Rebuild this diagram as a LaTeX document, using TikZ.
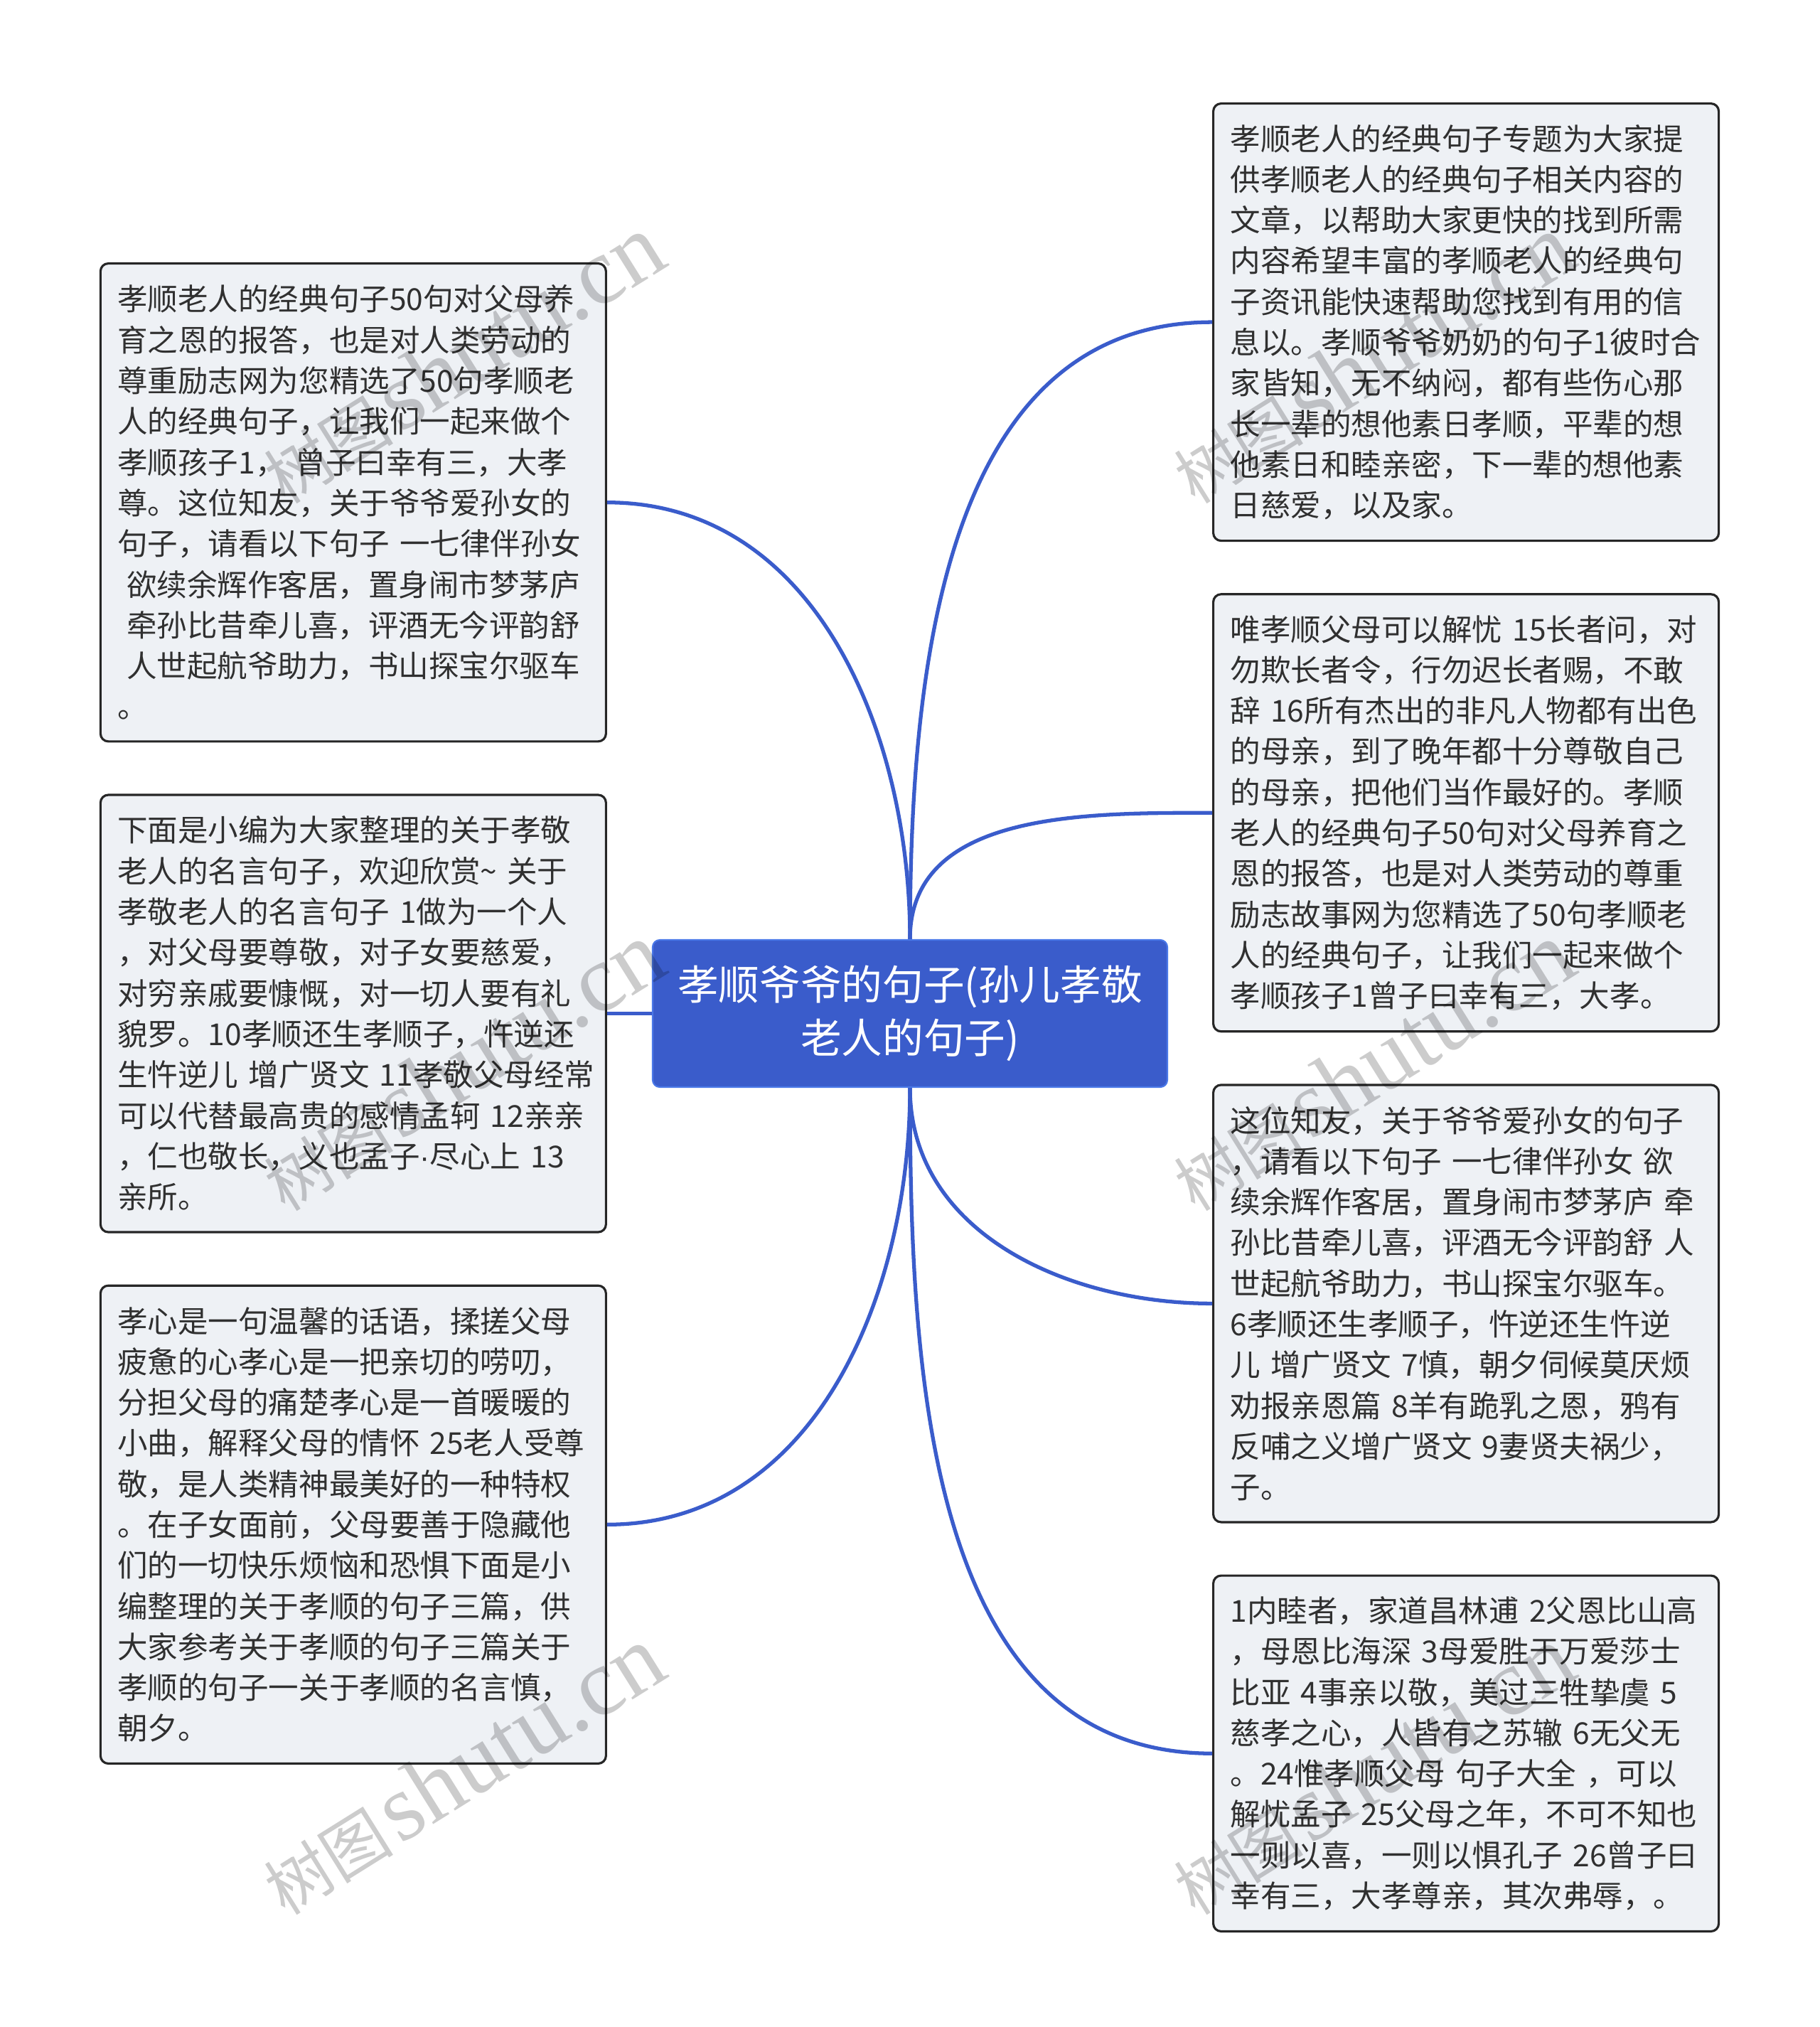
\documentclass[tikz,border=0pt]{standalone}
\usepackage{fontspec}
\setmainfont{Noto Sans CJK SC}
\newfontfamily\wmlatin{Liberation Serif}
\newfontfamily\latinsans{Liberation Sans}
\usepackage{xcolor}
\usetikzlibrary{positioning}
\definecolor{topicblue}{HTML}{3A5CCB}
\definecolor{topicedge}{HTML}{4A78E8}
\definecolor{leaffill}{HTML}{EEF1F5}
\definecolor{leafedge}{HTML}{262626}
\definecolor{leaftext}{HTML}{303030}

\begin{document}
\begin{tikzpicture}[
    topic/.style={draw=topicedge,line width=0.6pt,fill=topicblue,rounded corners=0.1cm,
      text=white,font=\fontsize{16.4}{21.2}\selectfont,minimum width=7.24cm,
      minimum height=2.07cm,text width=7cm,align=center,inner sep=0pt},
    leaf/.style={draw=leafedge,line width=0.9pt,fill=leaffill,rounded corners=0.11cm,
      text=leaftext,font=\fontsize{12.1}{16.3}\selectfont,text width=6.63cm,
      align=left,inner xsep=0.24cm,inner ysep=0.1cm},
    conn/.style={draw=topicblue,line width=1.5pt},
    wmark/.style={text=black,text opacity=0.2,rotate=32,inner sep=0pt}]
  % Mind map: root topic in the middle, three leaves left, four right
  \def\ls{0.573}        % line spacing of leaf text (cm)
  \def\gap{0.72cm}      % gap between stacked leaves
  \def\ind{\hspace*{0.3em}}
  \useasboundingbox (0,0) rectangle (25.6,-28.51);
  % --- Root ---
  \node[topic] (root) at (12.80,-14.255)
    {孝顺爷爷的句子(孙儿孝敬\\老人的句子)};
  % --- Left column ---
  \node[leaf,minimum height={(10*\ls+0.42)*1cm},left=0.63cm of root] (lm)
    {下面是小编为大家整理的关于孝敬\\
     老人的名言句子，欢迎欣赏\textasciitilde~关于\\
     孝敬老人的名言句子~1做为一个人\\
     ，对父母要尊敬，对子女要慈爱，\\
     对穷亲戚要慷慨，对一切人要有礼\\
     貌罗。10孝顺还生孝顺子，忤逆还\\
     生忤逆儿~增广贤文~11孝敬父母经常\\
     可以代替最高贵的感情孟轲~12亲亲\\
     ，仁也敬长，义也孟子{\latinsans ·}尽心上~13\\
     亲所。};
  \node[leaf,minimum height={(11*\ls+0.42)*1cm},above=\gap of lm] (lt)
    {孝顺老人的经典句子50句对父母养\\
     育之恩的报答，也是对人类劳动的\\
     尊重励志网为您精选了50句孝顺老\\
     人的经典句子，让我们一起来做个\\
     孝顺孩子1，~曾子曰幸有三，大孝\\
     尊。这位知友，关于爷爷爱孙女的\\
     句子，请看以下句子~一七律伴孙女\\
     \ind 欲续余辉作客居，置身闹市梦茅庐\\
     \ind 牵孙比昔牵儿喜，评酒无今评韵舒\\
     \ind 人世起航爷助力，书山探宝尔驱车\\
     。};
  \node[leaf,minimum height={(11*\ls+0.42)*1cm},below=\gap of lm] (lb)
    {孝心是一句温馨的话语，揉搓父母\\
     疲惫的心孝心是一把亲切的唠叨，\\
     分担父母的痛楚孝心是一首暖暖的\\
     小曲，解释父母的情怀~25老人受尊\\
     敬，是人类精神最美好的一种特权\\
     。在子女面前，父母要善于隐藏他\\
     们的一切快乐烦恼和恐惧下面是小\\
     编整理的关于孝顺的句子三篇，供\\
     大家参考关于孝顺的句子三篇关于\\
     孝顺的句子一关于孝顺的名言慎，\\
     朝夕。};
  % --- Right column ---
  \node[leaf,minimum height={(10*\ls+0.42)*1cm},anchor=north west] (ra) at (17.05,-1.44)
    {孝顺老人的经典句子专题为大家提\\
     供孝顺老人的经典句子相关内容的\\
     文章，以帮助大家更快的找到所需\\
     内容希望丰富的孝顺老人的经典句\\
     子资讯能快速帮助您找到有用的信\\
     息以。孝顺爷爷奶奶的句子1彼时合\\
     家皆知，无不纳闷，都有些伤心那\\
     长一辈的想他素日孝顺，平辈的想\\
     他素日和睦亲密，下一辈的想他素\\
     日慈爱，以及家。};
  \node[leaf,minimum height={(10*\ls+0.42)*1cm},below=\gap of ra] (rb)
    {唯孝顺父母可以解忧~15长者问，对\\
     勿欺长者令，行勿迟长者赐，不敢\\
     辞~16所有杰出的非凡人物都有出色\\
     的母亲，到了晚年都十分尊敬自己\\
     的母亲，把他们当作最好的。孝顺\\
     老人的经典句子50句对父母养育之\\
     恩的报答，也是对人类劳动的尊重\\
     励志故事网为您精选了50句孝顺老\\
     人的经典句子，让我们一起来做个\\
     孝顺孩子1曾子曰幸有三，大孝。};
  \node[leaf,minimum height={(10*\ls+0.42)*1cm},below=\gap of rb] (rc)
    {这位知友，关于爷爷爱孙女的句子\\
     ，请看以下句子~一七律伴孙女~欲\\
     续余辉作客居，置身闹市梦茅庐~牵\\
     孙比昔牵儿喜，评酒无今评韵舒~人\\
     世起航爷助力，书山探宝尔驱车。\\
     6孝顺还生孝顺子，忤逆还生忤逆\\
     儿~增广贤文~7慎，朝夕伺候莫厌烦\\
     劝报亲恩篇~8羊有跪乳之恩，鸦有\\
     反哺之义增广贤文~9妻贤夫祸少，\\
     子。};
  \node[leaf,minimum height={(8*\ls+0.42)*1cm},below=\gap of rc] (rd)
    {1内睦者，家道昌林逋~2父恩比山高\\
     ，母恩比海深~3母爱胜于万爱莎士\\
     比亚~4事亲以敬，美过三牲挚虞~5\\
     慈孝之心，人皆有之苏辙~6无父无\\
     。24惟孝顺父母~句子大全~，可以\\
     解忧孟子~25父母之年，不可不知也\\
     一则以喜，一则以惧孔子~26曾子曰\\
     幸有三，大孝尊亲，其次弗辱，。};
  % --- Connectors ---
  \draw[conn] (root.north) to[out=90,in=180] (ra.west);
  \draw[conn] (root.north) to[out=90,in=180] (rb.west);
  \draw[conn] (root.south) to[out=-90,in=180] (rc.west);
  \draw[conn] (root.south) to[out=-90,in=180] (rd.west);
  \draw[conn] (root.north) to[out=90,in=0] (lt.east);
  \draw[conn] (root.west) -- (lm.east);
  \draw[conn] (root.south) to[out=-90,in=0] (lb.east);
  % --- Watermarks ---
  \foreach \wx/\wy [count=\i] in {6.5/-5.05,19.3/-5.05,6.5/-15.0,19.3/-15.0,6.5/-24.9,19.3/-24.9}
    \node[wmark] (wm\i) at (\wx,\wy)
      {{\fontsize{26}{26}\selectfont 树图}~{\wmlatin\fontsize{38}{38}\selectfont shutu.cn}};
\end{tikzpicture}
\end{document}
